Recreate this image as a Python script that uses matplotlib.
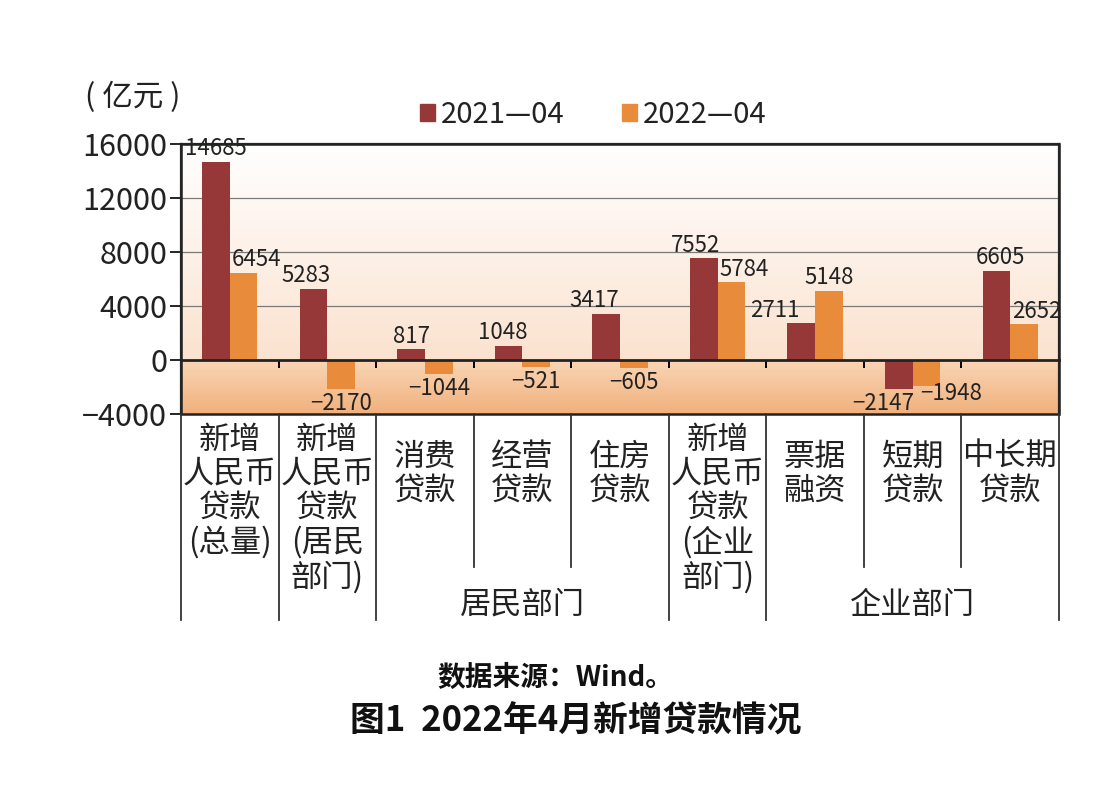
import numpy as np
import matplotlib
matplotlib.use("Agg")
import matplotlib.pyplot as plt
from matplotlib.colors import LinearSegmentedColormap
from matplotlib.patches import Patch, Rectangle
from matplotlib.lines import Line2D
from matplotlib.transforms import blended_transform_factory
from matplotlib.ticker import FuncFormatter

plt.rcParams['font.family'] = ['Noto Sans CJK SC', 'DejaVu Sans']

# ---- data ----
categories = ["新增\n人民币\n贷款\n(总量)", "新增\n人民币\n贷款\n(居民\n部门)",
              "消费\n贷款", "经营\n贷款", "住房\n贷款",
              "新增\n人民币\n贷款\n(企业\n部门)",
              "票据\n融资", "短期\n贷款", "中长期\n贷款"]
series_names = ["2021—04", "2022—04"]
values_2021 = [14685, 5283, 817, 1048, 3417, 7552, 2711, -2147, 6605]
values_2022 = [6454, -2170, -1044, -521, -605, 5784, 5148, -1948, 2652]
groups = [("居民部门", 2, 4), ("企业部门", 6, 8)]
y_ticks = [16000, 12000, 8000, 4000, 0, -4000]

# ---- style ----
c21 = "#973838"
c22 = "#e88c3c"
txt = "#222222"
bw = 0.284
# label nudges (points) as in the original layout
nudge21 = [0, -5, 0, -4, -9, -6, -19, -11, 3]
nudge22 = [9, 0, 0, 0, 0, 9, 0, 18, 9]
ynudge22 = [0, 0, 0, 0, 0, 0, 0, 5, 0]

fig = plt.figure(figsize=(11.15, 7.86), dpi=100)
L, R, B, T = 181/1115, 1059/1115, 1-414/786, 1-144/786
ax = fig.add_axes([L, B, R-L, T-B])
n = len(categories)
x = np.arange(n)
ax.set_xlim(-0.5, n-0.5)
ax.set_ylim(min(y_ticks), max(y_ticks))

# gradient backgrounds
cm_top = LinearSegmentedColormap.from_list("t", ["#fbe2cf", "#fdf1e8", "#ffffff"])
cm_bot = LinearSegmentedColormap.from_list("b", ["#f1b07c", "#f9d6b6"])
grad = np.linspace(0, 1, 256).reshape(-1, 1)
ax.imshow(grad, cmap=cm_top, extent=(-0.5, n-0.5, 0, max(y_ticks)), origin='lower',
          aspect='auto', zorder=0)
ax.imshow(grad, cmap=cm_bot, extent=(-0.5, n-0.5, min(y_ticks), 0), origin='lower',
          aspect='auto', zorder=0)

# grid
for yv in y_ticks:
    if yv not in (0, max(y_ticks), min(y_ticks)):
        ax.axhline(yv, color="#7a7a7a", lw=0.9, zorder=1)

ax.bar(x - bw/2, values_2021, bw, color=c21, zorder=2, label=series_names[0])
ax.bar(x + bw/2, values_2022, bw, color=c22, zorder=2, label=series_names[1])

def fmt(v):
    return ("−" + str(abs(v))) if v < 0 else str(v)

for xs, vals, nud, ynud in ((x - bw/2, values_2021, nudge21, [0]*n),
                            (x + bw/2, values_2022, nudge22, ynudge22)):
    for xi, v, nd, yn in zip(xs, vals, nud, ynud):
        ax.annotate(fmt(v), (xi, v), xytext=(nd, (1 if v >= 0 else -2) + yn),
                    textcoords="offset points", ha="center",
                    va="bottom" if v >= 0 else "top", fontsize=16, color=txt, zorder=4)

# spines / axes
for s in ("top", "right", "left"):
    ax.spines[s].set_color("#333333")
    ax.spines[s].set_linewidth(1.6)
ax.spines['bottom'].set_position(('data', 0))
ax.spines['bottom'].set_color("#222222")
ax.spines['bottom'].set_linewidth(2.0)
ax.add_patch(Rectangle((0, 0), 1, 1, transform=ax.transAxes, fill=False,
                       lw=1.8, edgecolor="#222222", zorder=5, clip_on=False))
ax.set_yticks(y_ticks)
ax.yaxis.set_major_formatter(FuncFormatter(lambda v, p: fmt(int(v))))
ax.tick_params(axis='y', direction='out', length=8, width=1.2, labelsize=22,
               labelcolor=txt, pad=2)
bounds = np.arange(n + 1) - 0.5
ax.set_xticks(bounds[1:-1])
ax.set_xticklabels([])
ax.tick_params(axis='x', direction='out', length=6, width=1.4)

# category labels below the axes
tr = blended_transform_factory(ax.transData, fig.transFigure)
for xi, lab in zip(x, categories):
    nlines = lab.count("\n") + 1
    ytop = 1 - 424/786 if nlines > 2 else 1 - 441/786
    ax.text(xi, ytop, lab, transform=tr, ha="center", va="top", fontsize=22.5,
            color=txt, linespacing=1.08, clip_on=False)

full = [0, 1, 2, 5, 6, 9]
for i, bx in enumerate(bounds):
    yend = 1 - 620/786 if i in full else 1 - 567/786
    fig.add_artist(Line2D([bx, bx], [B, yend], transform=tr, color="#333333", lw=1.3))

for name, a, b in groups:
    ax.text((a + b) / 2, 1 - 605/786, name, transform=tr, ha="center", va="center",
            fontsize=22.5, color=txt, clip_on=False)

# legend
handles = [Patch(color=c21), Patch(color=c22)]
fig.legend(handles, series_names, loc="center", bbox_to_anchor=(0.532, 1 - 115/786),
           ncol=2, frameon=False, fontsize=21, handlelength=0.5, handleheight=0.5,
           handletextpad=0.2, columnspacing=2.0, labelcolor=txt)

fig.text(85/1115, 1 - 97/786, "( 亿元 )", fontsize=22, color=txt, ha="left", va="center")
fig.text(0.498, 1 - 678/786, "数据来源：Wind。", fontsize=20, fontweight="bold",
         ha="center", va="center", color="#111111")
fig.text(0.516, 1 - 721/786, "图1  2022年4月新增贷款情况", fontsize=25, fontweight="bold",
         ha="center", va="center", color="#111111")

fig.savefig("out.png", dpi=100, facecolor="white")
